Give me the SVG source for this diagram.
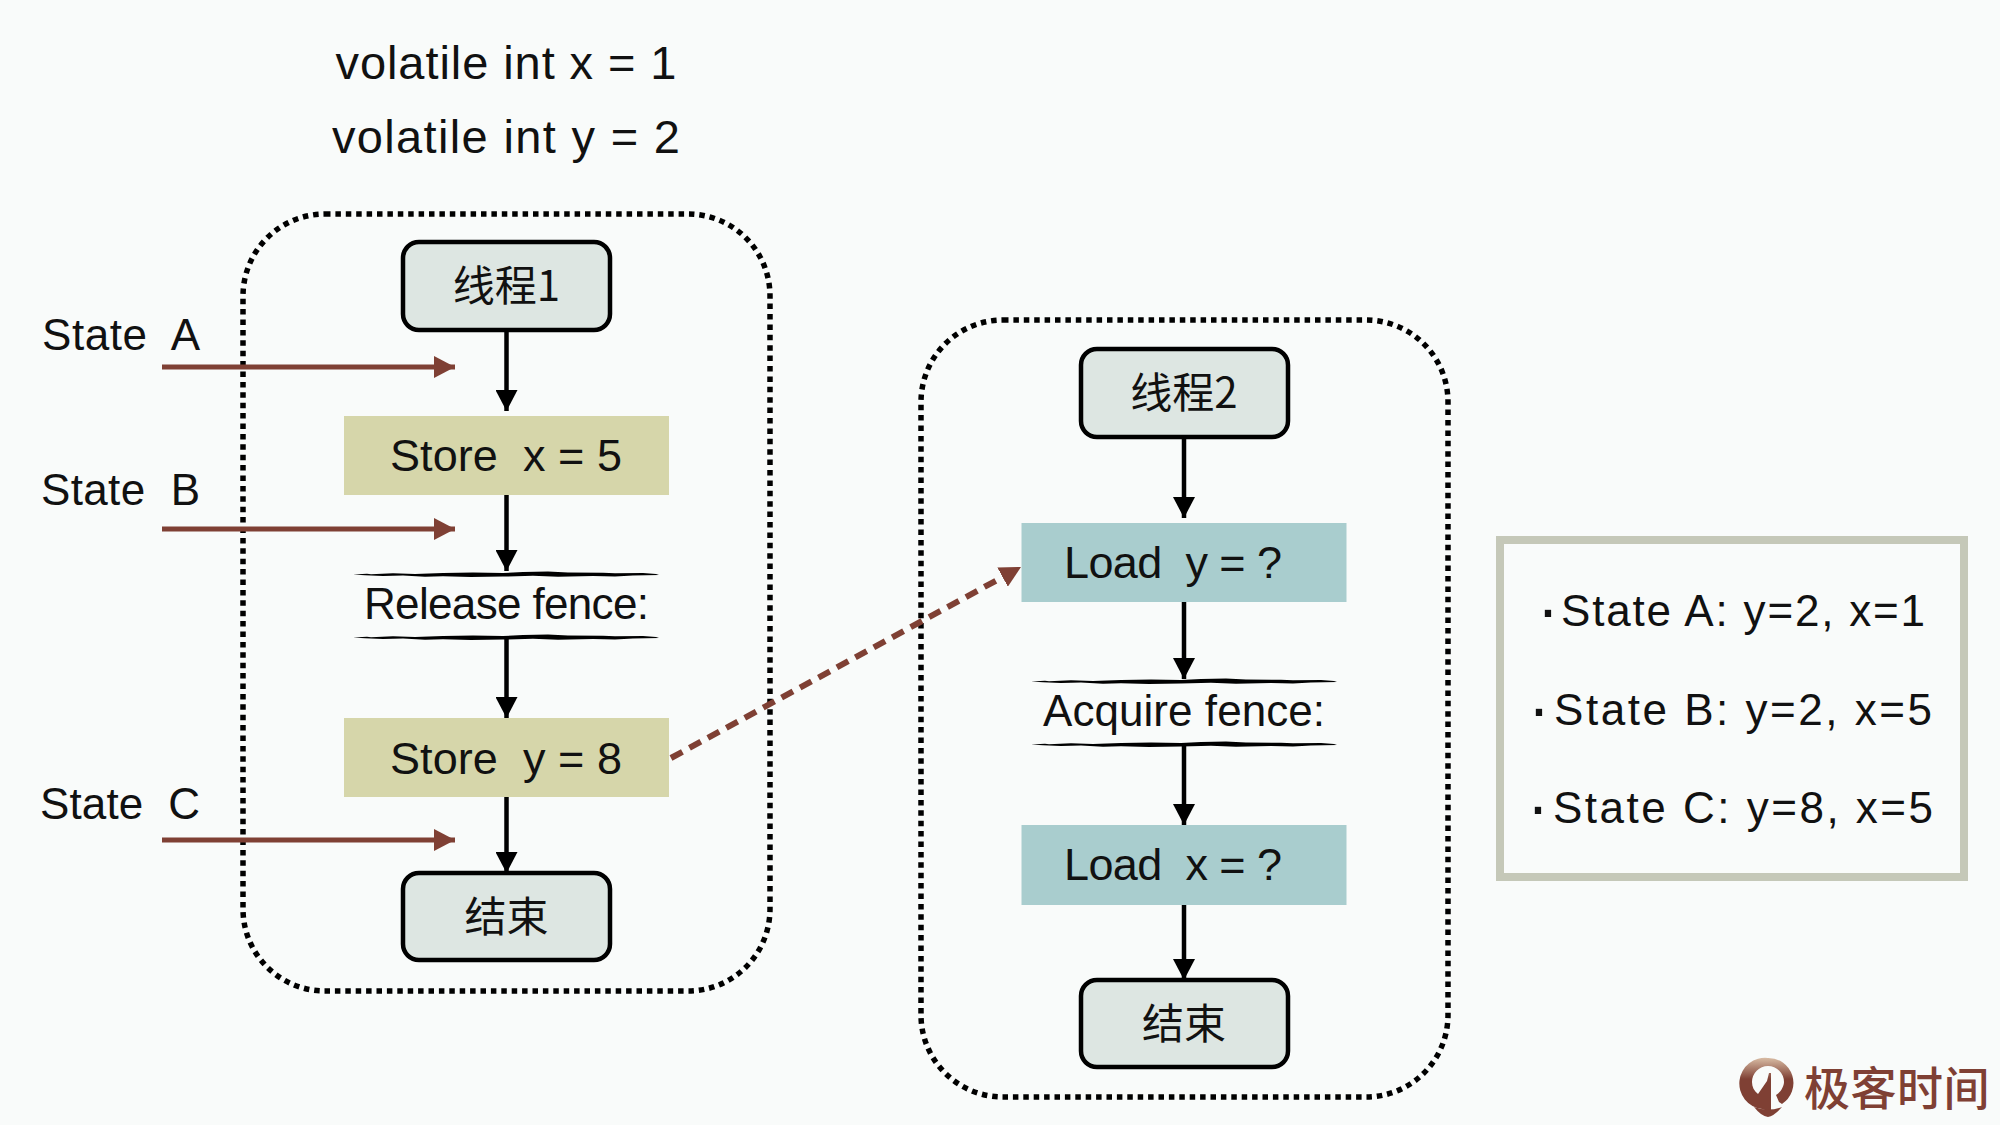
<svg xmlns="http://www.w3.org/2000/svg" width="2000" height="1125" viewBox="0 0 2000 1125">
<style>
text{font-family:"Liberation Sans","Noto Sans CJK SC",sans-serif;font-size:44px;fill:#111;white-space:pre}
.c{text-anchor:middle}
.h{font-size:47px}
.l{font-size:45px}
.dot{font-size:66px}
.cjk{font-family:"Noto Sans CJK SC","Liberation Sans",sans-serif;font-size:42px;font-weight:400}
.group{fill:none;stroke:#000;stroke-width:5.500;stroke-dasharray:5.500 4.900}
.term{fill:#dde6e2;stroke:#000;stroke-width:4.500}
.store{fill:#d6d6aa}
.load{fill:#a9cdce}
.blk{stroke:#000;stroke-width:4.500;fill:none}
.brn{stroke:#7f4034;stroke-width:5;fill:none}
.dash{stroke-width:6;stroke-dasharray:13 8}
.brush{fill:#000}
</style>
<defs>
<marker id="ab" markerUnits="userSpaceOnUse" markerWidth="22" markerHeight="22" refX="21" refY="11" orient="auto"><path d="M0 0L21 11L0 22Z" fill="#000"/></marker>
<marker id="ar" markerUnits="userSpaceOnUse" markerWidth="22" markerHeight="22" refX="21" refY="11" orient="auto"><path d="M0 0L21 11L0 22Z" fill="#7f4034"/></marker>
<linearGradient id="lg" x1="0" y1="0" x2="0" y2="1"><stop offset="0" stop-color="#d8bca4"/><stop offset=".4" stop-color="#7f4034"/></linearGradient>
<path id="fence" d="M0 2.500L14 1.800L18 2.300L40 1.200L62 2L90 1L120 .6L150 1L170 0L195 -.6L215 .5L250 .8L262 1.200L290 1L303 2L306 3L280 3.400L262 4.500L240 4L205 4.800L180 3.800L150 4.600L118 5L90 4.300L72 4.800L50 3.600L30 4L12 3.200Z"/>
</defs>
<rect width="2000" height="1125" fill="#f9fbfa"/>

<g id="header">
<text x="506" y="79" class="c h" textLength="341">volatile int x = 1</text>
<text x="506" y="153" class="c h" textLength="348">volatile int y = 2</text>
</g>

<g id="thread1-box"><rect class="group" x="243" y="214" width="527" height="777" rx="82"/></g>
<g id="thread2-box"><rect class="group" x="921" y="320" width="527" height="777" rx="82"/></g>

<g id="n-thread1"><rect class="term" x="403" y="242" width="207" height="88" rx="16"/><text x="506.500" y="301" class="c cjk">线程1</text></g>
<g id="n-store-x"><rect class="store" x="344" y="416" width="325" height="79"/><text x="506" y="471" class="c l" textLength="232">Store  x = 5</text></g>
<g id="n-release"><use href="#fence" class="brush" x="353" y="572"/><use href="#fence" class="brush" x="353" y="635"/><text x="506.500" y="619" class="c" textLength="285">Release fence:</text></g>
<g id="n-store-y"><rect class="store" x="344" y="718" width="325" height="79"/><text x="506" y="774" class="c l" textLength="232">Store  y = 8</text></g>
<g id="n-end1"><rect class="term" x="403" y="873" width="207" height="87" rx="16"/><text x="506.500" y="932" class="c cjk">结束</text></g>

<g id="n-thread2"><rect class="term" x="1081" y="349" width="207" height="88" rx="16"/><text x="1184" y="408" class="c cjk">线程2</text></g>
<g id="n-load-y"><rect class="load" x="1021.500" y="523" width="325" height="79"/><text x="1173" y="578" class="c l" textLength="218">Load  y = ?</text></g>
<g id="n-acquire"><use href="#fence" class="brush" x="1031" y="679"/><use href="#fence" class="brush" x="1031" y="742"/><text x="1184" y="726" class="c" textLength="282">Acquire fence:</text></g>
<g id="n-load-x"><rect class="load" x="1021.500" y="825" width="325" height="80"/><text x="1173" y="880" class="c l" textLength="218">Load  x = ?</text></g>
<g id="n-end2"><rect class="term" x="1081" y="980" width="207" height="87" rx="16"/><text x="1184" y="1039" class="c cjk">结束</text></g>

<g id="connectors">
<path class="blk" marker-end="url(#ab)" d="M506.500 330V411"/>
<path class="blk" marker-end="url(#ab)" d="M506.500 495V571"/>
<path class="blk" marker-end="url(#ab)" d="M506.500 638V718"/>
<path class="blk" marker-end="url(#ab)" d="M506.500 797V873"/>
<path class="blk" marker-end="url(#ab)" d="M1184 437V518"/>
<path class="blk" marker-end="url(#ab)" d="M1184 602V679"/>
<path class="blk" marker-end="url(#ab)" d="M1184 745V825"/>
<path class="blk" marker-end="url(#ab)" d="M1184 905V980"/>
<path class="brn" marker-end="url(#ar)" d="M162 367H455"/>
<path class="brn" marker-end="url(#ar)" d="M162 529H455"/>
<path class="brn" marker-end="url(#ar)" d="M162 840H455"/>
<path class="brn dash" marker-end="url(#ar)" d="M671 758L1021 567"/>
</g>

<g id="state-labels">
<text x="42" y="350" textLength="158">State  A</text>
<text x="41" y="505" textLength="159">State  B</text>
<text x="40" y="819" textLength="160">State  C</text>
</g>

<g id="legend">
<rect x="1500" y="540" width="464" height="337" fill="none" stroke="#c5c8b8" stroke-width="8"/>
<text><tspan class="dot" x="1537" y="632">·</tspan><tspan x="1561" y="626" textLength="364">State A: y=2, x=1</tspan></text>
<text><tspan class="dot" x="1528" y="731">·</tspan><tspan x="1554" y="725" textLength="378">State B: y=2, x=5</tspan></text>
<text><tspan class="dot" x="1527" y="829">·</tspan><tspan x="1553" y="823" textLength="380">State C: y=8, x=5</tspan></text>
</g>

<g id="logo">
<path fill="url(#lg)" d="M1768 1058a25 25 0 0 1 14 46l-3-2-3-7c5-3 8-9 8-13a16 16 0 0 0-32 0c0 5 2 9 6 12l9-13 2-8 2 0 0 38a25 25 0 0 1-9-2a25 25 0 0 1 6-51Z"/>
<path fill="#7f4034" d="M1754 1107q14 5 28 0q-8 9-14 10q-7-1-14-10Z"/>
<text x="1804" y="1105" style="font-family:'Noto Sans CJK SC',sans-serif;font-size:46px;letter-spacing:.5px;font-weight:500;fill:#7f4034">极客时间</text>
</g>
</svg>
